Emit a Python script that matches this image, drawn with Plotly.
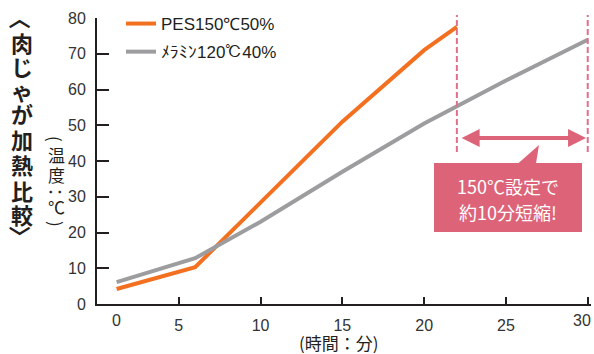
import plotly.graph_objects as go

# ---------------- data ----------------
time_pes = [1.2, 6, 15, 20, 22]
temp_pes = [4.2, 10.3, 51, 71, 77.5]
time_mel = [1.2, 6, 10, 15, 20, 25, 30]
temp_mel = [6.1, 12.8, 23, 37, 50.5, 62.5, 73.9]
series_names = ["PES150℃50%", "ﾒﾗﾐﾝ120℃40%"]
x_ticks = [5, 10, 15, 20, 25, 30]
x_tick_labels = ["5", "10", "15", "20", "25", "30"]
y_ticks = [0, 10, 20, 30, 40, 50, 60, 70, 80]
first_x_label = "0"
first_x_pos = 1.2
last_x_pos = 29.66
marker_start, marker_end = 22, 30
arrow_level = 46.4
y_title_chars = ["〈", "肉", "じ", "ゃ", "が", "加", "熱", "比", "較", "〉"]
y_unit_chars = ["(", "温", "度", "：", "℃", ")"]
x_title = "(時間：分)"
callout_lines = ["150℃設定で", "約10分短縮!"]

# ---------------- layout helpers ----------------
W, H = 594, 354
L, T = 97, 18
R = W - L - 494
B = H - 304
PW, PH = W - L - R, H - T - B


def px(p):
    return (p - L) / PW


def py(p):
    return (H - B - p) / PH


ORANGE = "#f37021"
GRAY = "#9d9d9f"
PINK = "#dd6478"
DARK = "#231f20"
CJK = "Noto Sans CJK JP"
NUM = "Liberation Sans Narrow, Liberation Sans, Arial"

fig = go.Figure()
fig.add_trace(go.Scatter(x=time_pes, y=temp_pes, mode="lines", name=series_names[0],
                         line=dict(color=ORANGE, width=4), legendgroup="a"))
fig.add_trace(go.Scatter(x=time_mel, y=temp_mel, mode="lines", name=series_names[1],
                         line=dict(color=GRAY, width=4), legendgroup="b"))

shapes = []
# dashed markers
for xv in (marker_start, marker_end):
    shapes.append(dict(type="line", xref="x", yref="paper", x0=xv, x1=xv,
                       y0=py(152), y1=py(15),
                       line=dict(color="#e0708a", width=2, dash="6px,3px")))
# callout box
shapes.append(dict(type="rect", xref="paper", yref="paper",
                   x0=px(434), x1=px(582), y0=py(232), y1=py(163),
                   fillcolor=PINK, line=dict(width=0), layer="above"))
shapes.append(dict(type="path", xref="paper", yref="paper",
                   path=f"M {px(518)},{py(163.5)} L {px(539)},{py(145)} L {px(536)},{py(163.5)} Z",
                   fillcolor=PINK, line=dict(width=0), layer="above"))

annotations = []
# double arrow
annotations.append(dict(x=marker_end - 0.1, y=arrow_level, ax=marker_start + 0.2, ay=arrow_level,
                        xref="x", yref="y", axref="x", ayref="y", text="",
                        showarrow=True, arrowhead=2, arrowside="end+start",
                        arrowsize=0.9, arrowwidth=4, arrowcolor=PINK))
# callout text
for i, t in enumerate(callout_lines):
    annotations.append(dict(x=px(508), y=py(186 + 26 * i), xref="paper", yref="paper",
                            text=t, showarrow=False, xanchor="center", yanchor="middle",
                            font=dict(family=CJK, size=18, color="white")))
# first and last x tick labels sit off their ticks in the reference
for lbl, pos in ((first_x_label, first_x_pos), (x_tick_labels[-1], last_x_pos)):
    annotations.append(dict(x=pos, y=py(320), xref="x", yref="paper",
                            text=lbl, showarrow=False, xanchor="center", yanchor="middle",
                            font=dict(family=NUM, size=16, color="#333333")))
# x title
annotations.append(dict(x=px(339), y=py(342), xref="paper", yref="paper", text=x_title,
                        showarrow=False, xanchor="center", yanchor="middle",
                        font=dict(family=CJK, size=17, color=DARK)))
# vertical y title (rotated brackets sit off-centre in their em box, hence the shift)
title_y = [18, 42.5, 66, 90, 113, 139, 164, 190, 214, 236]
for ch, yy in zip(y_title_chars, title_y):
    rot = 90 if ch in "〈〉" else 0
    annotations.append(dict(x=px(21.5), y=py(yy), xref="paper", yref="paper", text=f"<b>{ch}</b>",
                            showarrow=False, xanchor="center", yanchor="middle", textangle=rot,
                            font=dict(family=CJK, size=22, color=DARK)))
unit_y = [139, 154, 174, 191.5, 206.5, 224]
for ch, yy in zip(y_unit_chars, unit_y):
    rot = 90 if ch in "()：" else 0
    annotations.append(dict(x=px(56), y=py(yy), xref="paper", yref="paper", text=ch,
                            showarrow=False, xanchor="center", yanchor="middle", textangle=rot,
                            font=dict(family=CJK, size=17, color=DARK)))

tick_text = x_tick_labels[:-1] + [""]

fig.update_layout(
    width=W, height=H,
    margin=dict(l=L, r=R, t=T, b=B, autoexpand=False),
    paper_bgcolor="white", plot_bgcolor="white",
    showlegend=True,
    legend=dict(x=px(121), y=py(6), xanchor="left", yanchor="top",
                bgcolor="rgba(0,0,0,0)", tracegroupgap=3,
                font=dict(family=NUM, size=17, color=DARK)),
    shapes=shapes, annotations=annotations,
    xaxis=dict(range=[0, 30.2], tickvals=x_ticks, ticktext=tick_text,
               showgrid=False, zeroline=False,
               showline=True, linecolor=DARK, linewidth=2,
               ticks="inside", ticklen=7, tickwidth=2, tickcolor=DARK,
               tickfont=dict(family=NUM, size=16, color="#333333"), ticklabelstandoff=6,
               ticklabeloverflow="allow"),
    yaxis=dict(range=[0, 80], tickvals=y_ticks, showgrid=False, zeroline=False,
               showline=True, linecolor=DARK, linewidth=2,
               ticks="inside", ticklen=12, tickwidth=2, tickcolor=DARK,
               tickfont=dict(family=NUM, size=16, color="#333333"), ticklabelstandoff=6,
               ticklabeloverflow="allow"),
)

fig.write_html("out.html", config={"displayModeBar": False},
               post_script="document.body.style.margin='0';document.body.style.overflow='hidden';")
